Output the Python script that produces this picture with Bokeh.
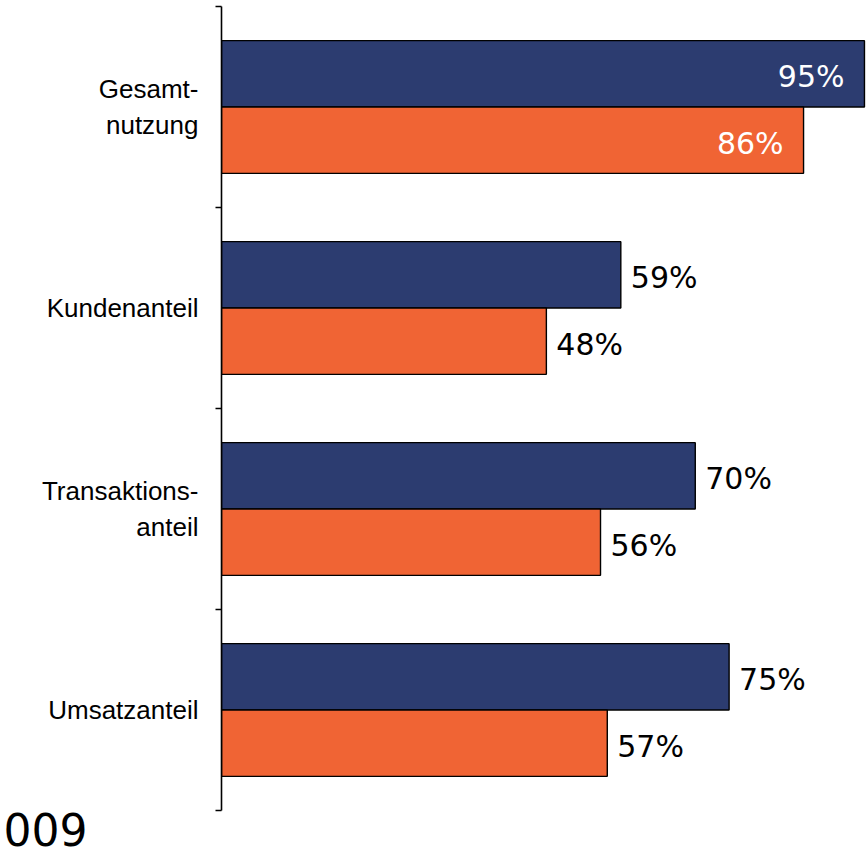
from bokeh.plotting import figure
from bokeh.models import ColumnDataSource, Range1d, FixedTicker, LinearAxis, Title
from bokeh.embed import file_html
from bokeh.resources import INLINE
from bokeh.core.properties import value

categories = ["Gesamt-\nnutzung", "Kundenanteil", "Transaktions-\nanteil", "Umsatzanteil"]
series_navy = [95, 59, 70, 75]
series_orange = [86, 48, 56, 57]
corner_text = "009"

NAVY = "#2C3C70"
ORANGE = "#F06434"

n = len(categories)
centers = [n - i - 0.5 for i in range(n)]
half = 0.165

p = figure(width=866, height=856, output_backend="svg", toolbar_location=None,
           x_range=Range1d(0, 95.3), y_range=Range1d(0, n),
           min_border_left=221, min_border_right=0, min_border_top=6, min_border_bottom=46)
p.outline_line_color = None
p.xgrid.visible = False
p.ygrid.visible = False
p.xaxis.visible = False
p.background_fill_color = "white"
p.border_fill_color = "white"

ax = p.yaxis[0]
ax.ticker = FixedTicker(ticks=list(range(n + 1)))
ax.major_label_text_font_size = "1px"
ax.major_label_text_color = None
ax.major_label_standoff = 0
ax.minor_tick_line_color = None
ax.major_tick_in = 0
ax.major_tick_out = 6
ax.axis_line_width = 1.6
ax.major_tick_line_width = 1.6
ax.axis_line_color = "black"
ax.major_tick_line_color = "black"

lab_ax = LinearAxis(ticker=FixedTicker(ticks=centers),
                    major_label_overrides={c: cat for c, cat in zip(centers, categories)},
                    axis_line_color=None, major_tick_line_color=None, minor_tick_line_color=None,
                    major_label_standoff=11, major_label_text_font="Liberation Sans",
                    major_label_text_font_size="26px", major_label_text_color="black")
p.add_layout(lab_ax, "left")

src_navy = ColumnDataSource(dict(y=[c + half for c in centers], v=series_navy))
src_orange = ColumnDataSource(dict(y=[c - half for c in centers], v=series_orange))
p.hbar(y="y", left=0, right="v", height=2 * half, source=src_navy,
       fill_color=NAVY, line_color="black", line_width=1.4)
p.hbar(y="y", left=0, right="v", height=2 * half, source=src_orange,
       fill_color=ORANGE, line_color="black", line_width=1.4)

# value labels
inside = dict(x=[], y=[], t=[])
outside = dict(x=[], y=[], t=[])
for ys, vals in ((src_navy.data["y"], series_navy), (src_orange.data["y"], series_orange)):
    for y, v in zip(ys, vals):
        d = inside if v > 80 else outside
        d["x"].append(v)
        d["y"].append(y)
        d["t"].append(f"{v}%")
p.text(x="x", y="y", text="t", source=ColumnDataSource(inside), x_offset=-20, y_offset=3,
       text_align="right", text_baseline="middle", text_color="white",
       text_font=value("DejaVu Sans"), text_font_size="30px")
p.text(x="x", y="y", text="t", source=ColumnDataSource(outside), x_offset=10, y_offset=3,
       text_align="left", text_baseline="middle", text_color="black",
       text_font=value("DejaVu Sans"), text_font_size="30px")

p.add_layout(Title(text=corner_text, align="left", offset=-218, text_font="DejaVu Sans",
                   text_font_size="44px", text_font_style="normal", text_color="black",
                   standoff=0), "below")

open("out.html", "w").write(file_html(p, INLINE))
